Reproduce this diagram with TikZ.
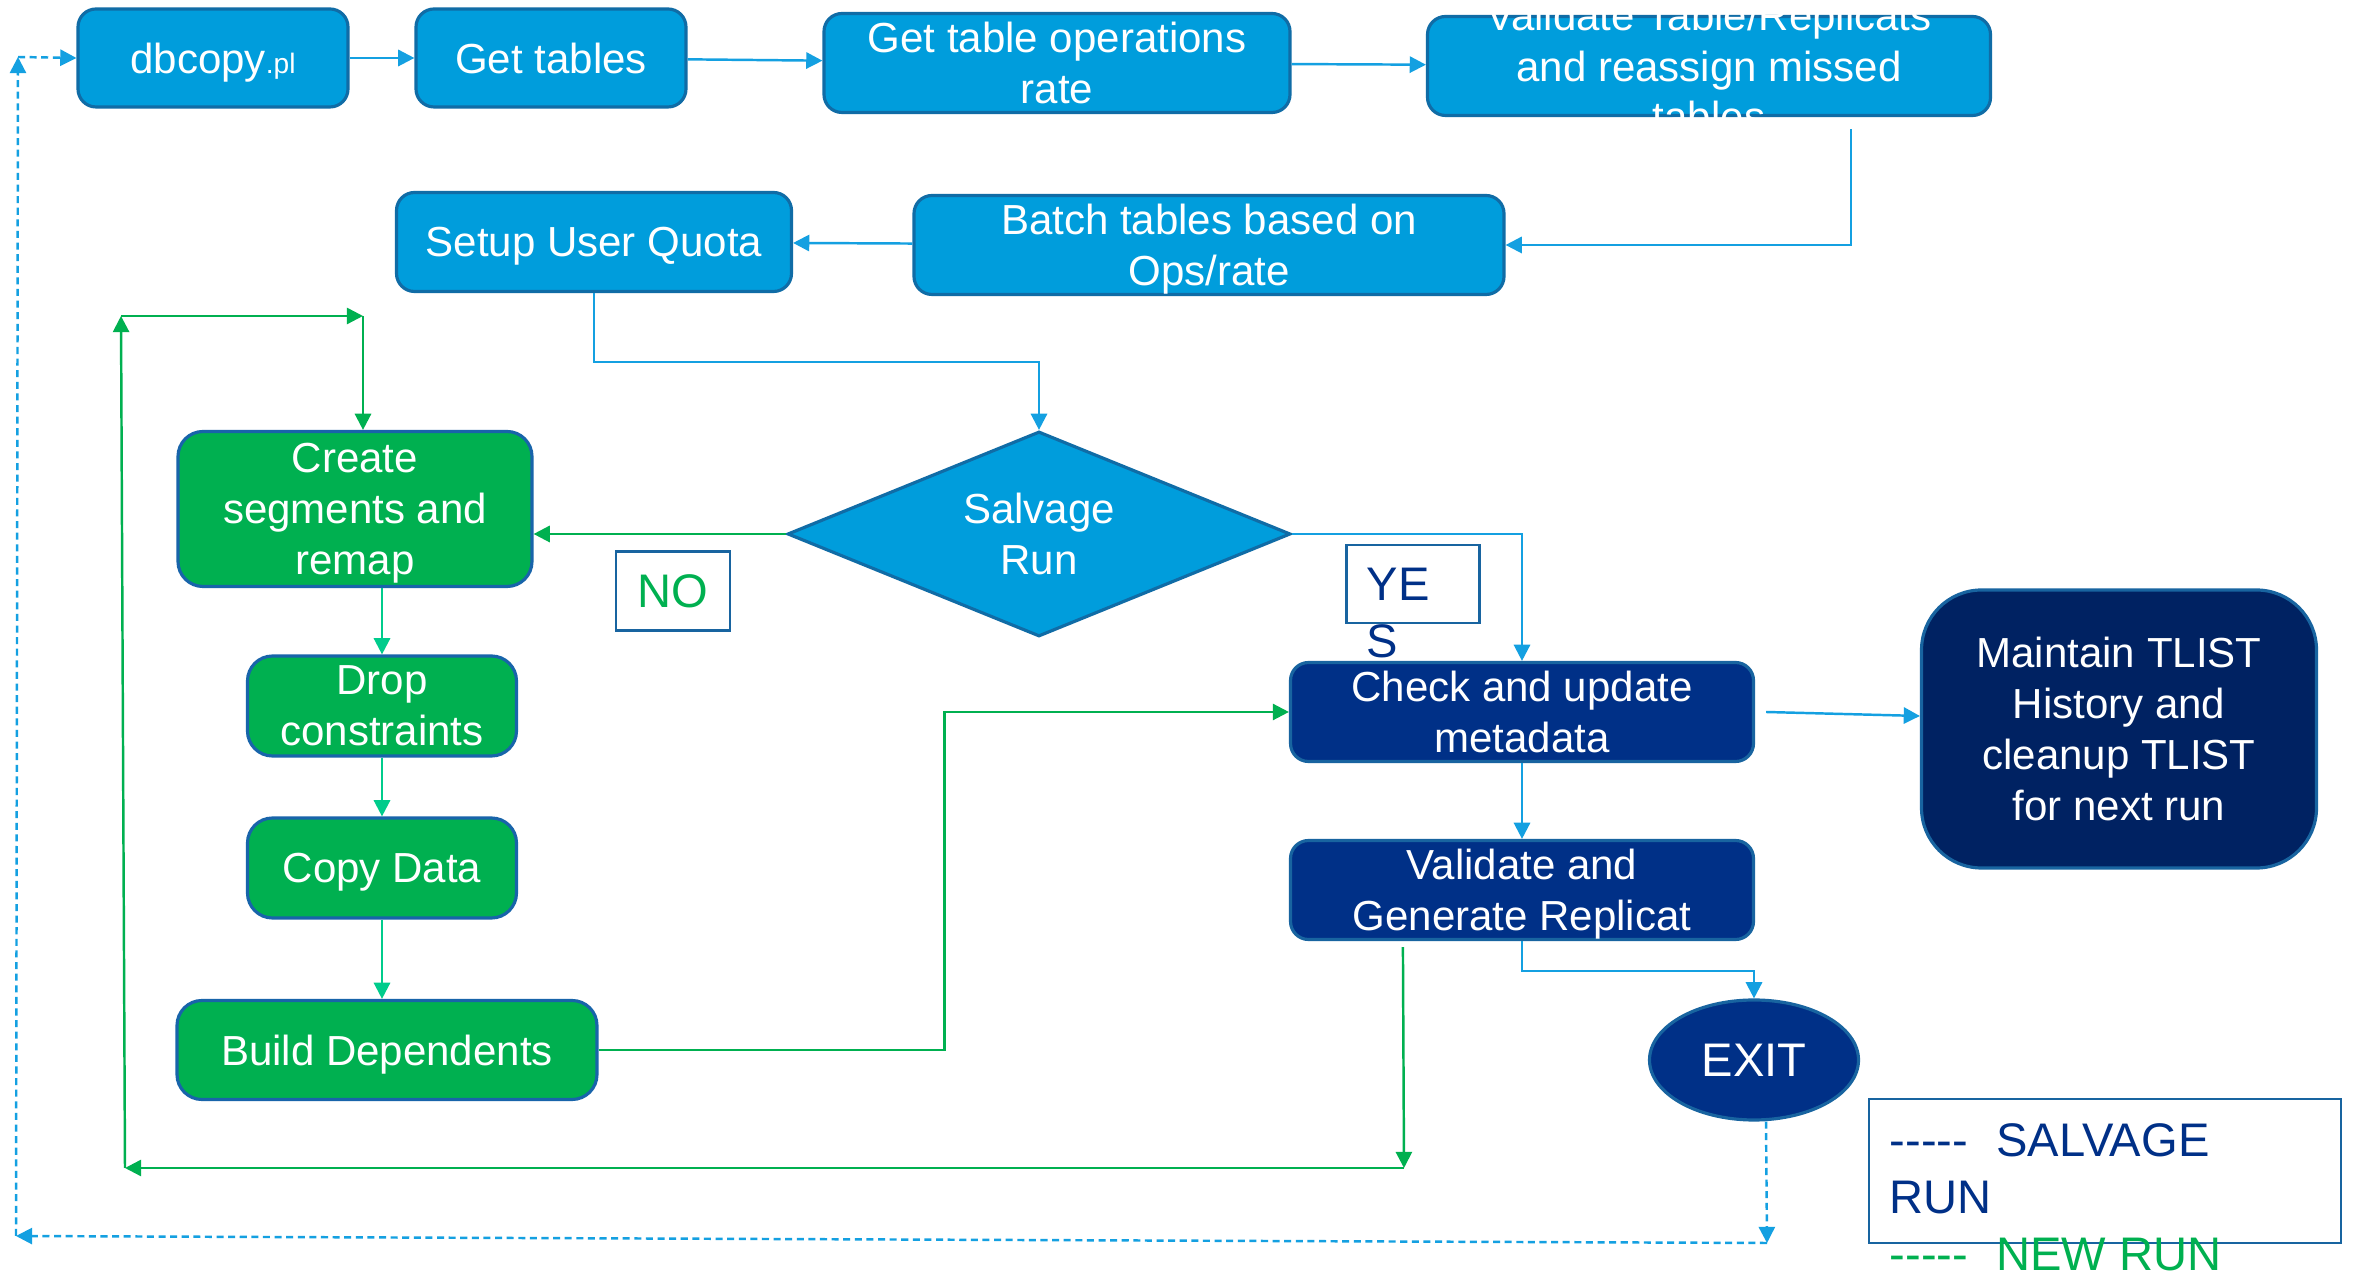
\documentclass[tikz,border=0pt]{standalone}
\usepackage{fontspec}
\setmainfont{Liberation Sans}
\usetikzlibrary{shapes.geometric,arrows.meta,calc}
\definecolor{boxblue}{RGB}{0,157,220}
\definecolor{boxedge}{RGB}{16,108,166}
\definecolor{boxgreen}{RGB}{0,176,80}
\definecolor{greenedge}{RGB}{24,100,170}
\definecolor{boxnavy}{RGB}{0,48,135}
\definecolor{deepnavy}{RGB}{0,34,98}
\definecolor{navyedge}{RGB}{24,100,160}
\definecolor{linkblue}{RGB}{20,160,225}
\definecolor{linkgreen}{RGB}{0,176,80}
\definecolor{linkmint}{RGB}{0,204,140}
\definecolor{tagedge}{RGB}{24,100,160}
\newlength\px
\setlength\px{0.01cm}
\newcommand\legdash{-{}-{}-{}-{}-}

\begin{document}
\begin{tikzpicture}[x=0.01cm,y=-0.01cm,
  boxtext/.style={text=white, align=center, inner sep=0pt, font=\fontsize{11.95}{14.5}\selectfont},
  box/.style={boxtext, rectangle, rounded corners=18\px, line width=0.9pt},
  flat/.style={text depth=0pt},
  bluebox/.style={box, fill=boxblue, draw=boxedge},
  greenbox/.style={box, fill=boxgreen, draw=greenedge, rounded corners=25\px},
  navybox/.style={box, fill=boxnavy, draw=navyedge},
  tag/.style={draw=tagedge, line width=0.8pt, inner sep=0pt, font=\fontsize{13.4}{16.2}\selectfont},
  link/.style={draw=linkblue, line width=0.7pt, -{Triangle[length=4.6pt,width=4.6pt]}},
  glink/.style={link, draw=linkgreen},
  mlink/.style={link, draw=linkmint},
  dlink/.style={link, dash pattern=on 2pt off 1.3pt}]
\path[use as bounding box, fill=white] (0,0) rectangle (2354,1274);

% first row
\node[bluebox, flat, minimum width=270\px, minimum height=98\px] (db) at (213,58) {dbcopy{\fontsize{8}{10}\selectfont.pl}};
\node[bluebox, flat, minimum width=270\px, minimum height=98\px] (gt) at (551,58) {Get tables};
\node[bluebox, minimum width=466\px, minimum height=99\px] (opr) at (1057,63) {Get table operations\\rate};
\node[bluebox, minimum width=563\px, minimum height=99\px,
  label={[boxtext]center:Validate Table/Replicats\\and reassign missed\\tables}] (val) at (1709,66) {};

% second row
\node[bluebox, flat, minimum width=395\px, minimum height=99\px] (quota) at (594,242) {Setup User Quota};
\node[bluebox, minimum width=590\px, minimum height=99\px] (batch) at (1209,245) {Batch tables based on\\\smash{Ops/rate}};

% decision
\node[diamond, aspect=2.45, fill=boxblue, draw=boxedge, line width=0.9pt, minimum width=503\px, minimum height=205\px,
  inner sep=0pt, align=center, text=white, font=\fontsize{11.95}{14.5}\selectfont] (run) at (1039,534) {Salvage\\Run};
\node[tag, minimum width=114\px, minimum height=79\px, text=linkgreen] (no) at (673,591) {NO};
\node[tag, minimum width=133\px, minimum height=78\px] (yes) at (1413,584) {};
\node[anchor=north west, inner sep=0pt, align=left, text=boxnavy, font=\fontsize{13.4}{16.2}\selectfont] (yestext) at (1366,567) {YE\\S};

% new run branch
\node[greenbox, minimum width=354\px, minimum height=155\px] (seg) at (355,509) {Create\\segments and\\\smash{remap}};
\node[greenbox, minimum width=269\px, minimum height=100\px] (drop) at (382,706) {Drop\\constraints};
\node[greenbox, flat, minimum width=269\px, minimum height=100\px] (copy) at (382,868) {Copy Data};
\node[greenbox, flat, minimum width=420\px, minimum height=99\px] (build) at (387,1050) {Build Dependents};

% salvage branch
\node[navybox, minimum width=463\px, minimum height=99\px] (chk) at (1522,712) {Check and update\\metadata};
\node[navybox, minimum width=463\px, minimum height=99\px] (gen) at (1522,890) {Validate and\\\smash{Generate Replicat}};
\node[navybox, fill=deepnavy, rounded corners=60\px, minimum width=395\px, minimum height=278\px] (tlist) at (2119,729)
  {Maintain TLIST\\History and\\cleanup TLIST\\for next run};
\node[ellipse, fill=boxnavy, draw=navyedge, line width=0.9pt, minimum width=209\px, minimum height=120\px, inner sep=0pt,
  text=white, font=\fontsize{13.4}{16.2}\selectfont] (exit) at (1754,1060) {EXIT};

% legend
\node[tag, minimum width=472\px, minimum height=144\px] (legend) at (2105,1171) {};
\node[anchor=north west, inner sep=0pt, align=left, text=boxnavy, font=\fontsize{13.4}{16.2}\selectfont] (legtext) at (1889,1123)
  {\legdash\hspace{0.6em}SALVAGE\\RUN\\\textcolor{linkgreen}{\legdash\hspace{0.6em}NEW RUN}};

% loop corners
\coordinate (gdn) at (1404,1168);
\coordinate (gsw) at (125,1168);
\coordinate (gnw) at (121,316);
\coordinate (gne) at (363,316);
\coordinate (dse) at (1767,1243);
\coordinate (dsw) at (16,1236);
\coordinate (dnw) at (18,57);

% connectors
\draw[link] (db) -- (gt);
\draw[link] (gt) -- (opr);
\draw[link] (opr) -- (val);
\draw[link] ($(val.south east)+(-141,12)$) |- (batch.east);
\draw[link] (batch) -- (quota);
\draw[link] (quota.south) -- ++(0,69) -| (run.north);
\draw[glink] (run.west) -- (run.west -| seg.east);
\draw[link] (run.east) -| (chk.north);
\draw[link] ($(chk.east)+(11,0)$) -- ($(tlist.west)+(0,-13)$);
\draw[link] (chk) -- (gen);
\draw[link] (gen.south) -- ++(0,30) -| (exit.north);
\draw[mlink] (drop.north |- seg.south) -- (drop.north);
\draw[mlink] (drop) -- (copy);
\draw[mlink] (copy.south) -- (copy.south |- build.north);
\draw[glink] (build.east) -- ++(346,0) |- (chk.west);
\draw[glink] ($(gen.south west)+(114,6)$) -- (gdn);
\draw[glink] (gdn) -- (gsw);
\draw[glink] (gsw) -- (gnw);
\draw[glink] (gnw) -- (gne);
\draw[glink] (gne) -- (gne |- seg.north);
\draw[dlink] ($(exit.south)+(12,0)$) -- (dse);
\draw[dlink] (dse) -- (dsw);
\draw[dlink] (dsw) -- (dnw);
\draw[dlink] (dnw) -- (db.west);
\end{tikzpicture}
\end{document}
